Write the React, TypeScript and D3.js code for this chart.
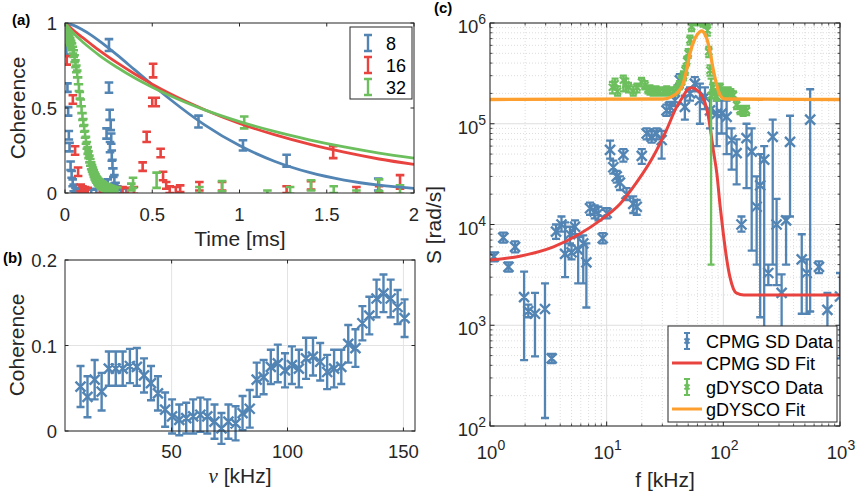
import React from 'react';
import * as d3 from 'd3';

const FONT = '"Liberation Sans", Arial, Helvetica, sans-serif';
const AX = '#262626';
const BLUE = '#5284b4';
const RED = '#e8433f';
const GREEN = '#6dbf5e';
const ORANGE = '#fd9f2f';
const TICK_FS = 18.5;
const LAB_FS = 21;

// ---------- Panel (a) data: [time ms, coherence, error] ----------
const coh8: [number, number, number][] = [
  [0.003, 0.99, 0.02], [0.008, 0.84, 0.025], [0.014, 0.62, 0.025], [0.018, 0.48, 0.025],
  [0.022, 0.34, 0.025], [0.026, 0.27, 0.025], [0.032, 0.16, 0.025], [0.038, 0.11, 0.02],
  [0.044, 0.06, 0.02], [0.05, 0.03, 0.02], [0.06, 0.015, 0.015], [0.07, 0.01, 0.015],
  [0.08, 0.01, 0.015], [0.095, 0.005, 0.015], [0.11, 0.01, 0.015], [0.13, 0.005, 0.015],
  [0.15, 0.005, 0.015], [0.18, 0.01, 0.015], [0.2, 0.01, 0.015], [0.22, 0.02, 0.015],
  [0.238, 0.35, 0.03], [0.245, 0.06, 0.02], [0.252, 0.87, 0.035], [0.252, 0.62, 0.03],
  [0.256, 0.46, 0.03], [0.258, 0.27, 0.03], [0.262, 0.40, 0.03], [0.265, 0.32, 0.03],
  [0.268, 0.22, 0.03], [0.272, 0.17, 0.025], [0.277, 0.12, 0.025], [0.283, 0.08, 0.025],
  [0.29, 0.04, 0.02], [0.3, 0.02, 0.02], [0.32, 0.01, 0.015], [0.35, 0.01, 0.015],
  [0.765, 0.42, 0.035], [1.02, 0.28, 0.03], [1.27, 0.19, 0.035], [1.795, 0.05, 0.035],
];
const coh16: [number, number, number][] = [
  [0.003, 0.9, 0.025], [0.01, 0.78, 0.025], [0.045, 0.55, 0.025], [0.058, 0.25, 0.025],
  [0.075, 0.125, 0.025], [0.09, 0.03, 0.02], [0.1, 0.02, 0.02], [0.115, 0.015, 0.02],
  [0.13, 0.01, 0.02], [0.2, 0.015, 0.02], [0.33, 0.015, 0.02], [0.36, 0.01, 0.02],
  [0.395, 0.015, 0.02], [0.445, 0.155, 0.025], [0.468, 0.33, 0.03], [0.505, 0.72, 0.04],
  [0.5, 0.535, 0.025], [0.52, 0.535, 0.025], [0.548, 0.235, 0.025], [0.562, 0.1, 0.025],
  [0.58, 0.045, 0.02], [0.6, 0.02, 0.02], [0.635, 0.015, 0.02], [0.66, 0.025, 0.02],
  [0.77, 0.04, 0.025], [0.9, 0.04, 0.025], [1.27, 0.02, 0.02], [1.41, 0.045, 0.025],
  [1.537, 0.24, 0.035], [1.67, 0.015, 0.02], [1.8, 0.02, 0.02], [1.92, 0.065, 0.04],
];
const coh32: [number, number, number][] = [
  [0.0, 0.97, 0.02], [0.005, 0.96, 0.02], [0.01, 0.95, 0.02], [0.015, 0.935, 0.02],
  [0.02, 0.92, 0.02], [0.025, 0.905, 0.02], [0.03, 0.89, 0.02], [0.035, 0.875, 0.02],
  [0.04, 0.86, 0.02], [0.045, 0.84, 0.02], [0.05, 0.82, 0.02], [0.055, 0.79, 0.02],
  [0.06, 0.76, 0.02], [0.065, 0.73, 0.02], [0.07, 0.7, 0.02], [0.075, 0.66, 0.02],
  [0.08, 0.62, 0.02], [0.085, 0.575, 0.02], [0.09, 0.53, 0.02], [0.095, 0.49, 0.02],
  [0.1, 0.45, 0.02], [0.105, 0.415, 0.02], [0.11, 0.38, 0.02], [0.115, 0.345, 0.02],
  [0.12, 0.31, 0.02], [0.125, 0.28, 0.02], [0.13, 0.25, 0.02], [0.135, 0.225, 0.02],
  [0.14, 0.2, 0.02], [0.145, 0.18, 0.02], [0.15, 0.16, 0.02], [0.155, 0.145, 0.02],
  [0.16, 0.13, 0.02], [0.165, 0.115, 0.02], [0.17, 0.1, 0.02], [0.175, 0.09, 0.02],
  [0.18, 0.08, 0.02], [0.185, 0.072, 0.02], [0.19, 0.065, 0.02], [0.195, 0.06, 0.02],
  [0.2, 0.055, 0.02], [0.205, 0.05, 0.02], [0.21, 0.046, 0.02], [0.215, 0.043, 0.02],
  [0.22, 0.04, 0.02], [0.225, 0.037, 0.02], [0.23, 0.034, 0.02], [0.235, 0.032, 0.02],
  [0.24, 0.03, 0.02], [0.245, 0.028, 0.02], [0.25, 0.026, 0.02], [0.255, 0.024, 0.02],
  [0.26, 0.022, 0.02], [0.265, 0.02, 0.02], [0.27, 0.018, 0.02], [0.275, 0.016, 0.02],
  [0.28, 0.015, 0.02], [0.29, 0.013, 0.02], [0.3, 0.012, 0.02],
  [0.38, 0.035, 0.02], [0.39, 0.06, 0.03], [0.525, 0.075, 0.045], [0.77, 0.015, 0.02],
  [0.9, 0.04, 0.03], [1.027, 0.415, 0.035], [1.16, 0.0, 0.015], [1.29, 0.015, 0.02],
  [1.41, 0.045, 0.03], [1.54, 0.02, 0.02], [1.67, 0.0, 0.015], [1.8, 0.045, 0.035],
  [1.92, 0.02, 0.025],
];
const fitT = [0, 0.05, 0.1, 0.15, 0.2, 0.3, 0.4, 0.5, 0.6, 0.8, 1.0, 1.2, 1.4, 1.6, 1.8, 2.0];
const fit8 = [1, 0.986, 0.96, 0.929, 0.892, 0.811, 0.724, 0.637, 0.553, 0.401, 0.279, 0.187, 0.121, 0.076, 0.046, 0.027];
const fit16 = [1, 0.956, 0.915, 0.875, 0.836, 0.765, 0.7, 0.64, 0.585, 0.49, 0.409, 0.343, 0.287, 0.24, 0.2, 0.168];
const fit32 = [1, 0.938, 0.89, 0.847, 0.807, 0.738, 0.676, 0.622, 0.573, 0.489, 0.42, 0.362, 0.313, 0.271, 0.235, 0.205];
const legendA = ['8', '16', '32'];
const ticksAX = [0, 0.5, 1, 1.5, 2];
const ticksAY = [0, 0.5, 1];

// ---------- Panel (b) data ----------
const nuB = [10.7, 13.7, 16.8, 19.8, 22.9, 25.9, 28.9, 32.0, 35.0, 38.1, 41.1, 44.1, 47.2, 50.2, 53.3, 56.3,
  59.3, 62.4, 65.4, 68.5, 71.5, 74.5, 77.6, 80.6, 83.7, 86.7, 89.7, 92.8, 95.8, 98.9, 101.9, 104.9, 108.0,
  111.0, 114.1, 117.1, 120.1, 123.2, 126.2, 129.3, 132.3, 135.3, 138.4, 141.4, 144.5, 147.5, 150.5];
const cohB = [0.052, 0.04, 0.06, 0.046, 0.073, 0.073, 0.073, 0.076, 0.075, 0.065, 0.056, 0.044, 0.025, 0.017,
  0.013, 0.015, 0.017, 0.019, 0.017, 0.011, 0.003, 0.011, 0.009, 0.021, 0.026, 0.06, 0.063, 0.075, 0.079,
  0.071, 0.077, 0.073, 0.085, 0.087, 0.081, 0.069, 0.073, 0.075, 0.102, 0.097, 0.126, 0.135, 0.155, 0.161,
  0.155, 0.145, 0.132];
const errB = [0.024, 0.024, 0.023, 0.022, 0.02, 0.02, 0.02, 0.02, 0.022, 0.02, 0.02, 0.02, 0.02, 0.02, 0.018,
  0.018, 0.02, 0.02, 0.02, 0.02, 0.018, 0.02, 0.02, 0.02, 0.022, 0.02, 0.02, 0.02, 0.022, 0.02, 0.022, 0.022,
  0.024, 0.022, 0.022, 0.02, 0.022, 0.02, 0.022, 0.022, 0.02, 0.022, 0.022, 0.022, 0.022, 0.02, 0.022];
const ticksBX = [50, 100, 150];
const ticksBY = [0, 0.1, 0.2];

// ---------- Panel (c) data ----------
const cpmgF = [1.08, 1.3, 1.44, 1.64, 1.96, 2.13, 2.43, 2.96, 3.38, 3.68, 4.1, 4.4, 4.85, 5.0, 5.35, 5.7, 6.3,
  6.7, 7.2, 7.9, 8.5, 9.25, 10.0, 10.7, 11.4, 12.2, 13.0, 13.9, 14.8, 16.9, 18.1, 20.0, 22.0, 24.3, 26.8,
  29.6, 32.6, 34.9, 38.5, 42.4, 46.8, 51.8, 57.0, 63.0, 69.6, 76.9, 87.8, 96.6, 106.7, 117.7, 130, 143,
  158, 175, 193, 207, 224, 243, 265, 286, 316, 345, 373, 470, 518, 555, 660, 780, 1000];
const cpmgS = [4.8e3, 7.4e3, 3.8e3, 6.0e3, 1.9e3, 1.38e3, 1.3e3, 1.45e3, 470, 8.5e3, 1.0e4, 5.1e3, 8.0e3,
  5.3e3, 9.5e3, 5.6e3, 6.5e3, 4.2e3, 1.45e4, 1.35e4, 1.3e4, 7.3e3, 1.3e4, 5.5e4, 3.7e4, 3.0e4, 2.6e4,
  4.9e4, 2.0e4, 1.6e4, 1.5e4, 4.8e4, 8.0e4, 7.4e4, 8.0e4, 6.9e4, 1.36e5, 1.47e5, 1.71e5, 2.7e5, 1.47e5,
  2.0e5, 2.5e5, 1.71e5, 1.85e5, 1.36e5, 1.26e5, 1.26e5, 1.17e5, 6.9e4, 5.1e4, 1.0e4, 7.2e4, 5.3e4,
  1.5e4, 2.45e4, 4.4e4, 3.3e3, 7.4e4, 1.0e4, 2.1e3, 1.1e4, 6.6e4, 4.5e3, 3.3e3, 1.1e5, 3.8e3, 1.42e3, 1.93e3];
const cpmgLo = [4.3e3, 6.6e3, 3.4e3, 5.3e3, 450, 1.2e3, 490, 120, 420, 7.2e3, 8.5e3, 3.0e3, 6.5e3, 4.5e3,
  8.0e3, 2.6e3, 2.6e3, 1.5e3, 1.25e4, 1.15e4, 1.1e4, 6.5e3, 1.15e4, 4.5e4, 3.2e4, 2.6e4, 2.2e4, 4.2e4,
  1.75e4, 1.3e4, 1.25e4, 4.0e4, 7.0e4, 6.5e4, 7.0e4, 4.5e4, 1.2e5, 1.3e5, 1.5e5, 2.3e5, 1.1e5, 1.7e5,
  2.1e5, 1.0e5, 1.4e5, 9.0e4, 6.0e4, 8.0e4, 5.0e4, 3.5e4, 2.5e4, 8.5e3, 2.3e4, 5.5e3, 4.0e3, 1.2e3, 800,
  2.5e3, 4.0e3, 2.5e3, 200, 4.0e3, 1.2e4, 1.3e3, 1.3e3, 1.37e3, 3.3e3, 300, 470];
const cpmgHi = [5.3e3, 8.3e3, 4.2e3, 6.8e3, 3.4e3, 1.6e3, 2.1e3, 2.6e3, 520, 1.0e4, 1.2e4, 1.05e4, 9.5e3,
  6.2e3, 1.1e4, 7.5e3, 7.8e3, 6.5e3, 1.65e4, 1.55e4, 1.5e4, 8.2e3, 1.45e4, 6.8e4, 4.3e4, 3.4e4, 3.0e4,
  5.6e4, 2.3e4, 1.9e4, 1.75e4, 5.6e4, 9.0e4, 8.4e4, 9.0e4, 8.5e4, 1.55e5, 1.65e5, 1.95e5, 3.1e5, 1.9e5,
  2.3e5, 2.9e5, 2.5e5, 2.3e5, 1.8e5, 1.7e5, 1.7e5, 1.7e5, 9.0e4, 7.0e4, 1.2e4, 1.0e5, 9.0e4, 3.0e4,
  5.0e4, 6.0e4, 4.0e3, 1.1e5, 1.8e4, 3.2e3, 1.2e4, 1.2e5, 8.0e3, 4.5e3, 2.2e5, 4.3e3, 2.1e3, 3.3e3];

const gdyF = [11.2, 11.8, 12.4, 13.9, 14.6, 15.4, 16.9, 18.2, 19.9, 21.3, 22.6, 23.5, 25.0, 26.5, 28.5, 30.6,
  32.7, 34.8, 37.3, 39.9, 42.0, 43.9, 45.5, 47.0, 48.5, 50.0, 51.8, 53.4, 55.0, 57.0, 59.0, 61.0, 63.0,
  65.0, 67.0, 69.0, 71.0, 73.0, 75.0, 76.9, 78.5, 81.5, 84.5, 87.8, 93.6, 100, 105, 110, 116, 122, 130,
  139, 148, 158];
const gdyS = [2.3e5, 2.5e5, 2.1e5, 2.7e5, 2.45e5, 2.3e5, 2.1e5, 2.3e5, 2.6e5, 2.4e5, 2.2e5, 2.16e5, 2.1e5,
  2.15e5, 2.1e5, 2.1e5, 2.15e5, 2.1e5, 2.1e5, 2.2e5, 2.4e5, 2.7e5, 3.0e5, 3.4e5, 4.2e5, 5.0e5, 6.8e5,
  9.2e5, 1.1e6, 1.25e6, 1.2e6, 1.3e6, 1.15e6, 1.25e6, 1.1e6, 1.2e6, 1.05e6, 8.5e5, 5.2e5, 3.4e5, 1.9e5,
  2.3e5, 2.0e5, 1.86e5, 2.3e5, 2.1e5, 2.05e5, 2.1e5, 2.0e5, 1.93e5, 1.54e5, 1.37e5, 1.3e5, 1.35e5];
const gdyLo = [2.0e5, 2.2e5, 1.9e5, 2.1e5, 2.1e5, 2.05e5, 1.9e5, 2.05e5, 2.35e5, 2.2e5, 2.0e5, 1.95e5,
  1.9e5, 1.95e5, 1.9e5, 1.9e5, 1.95e5, 1.9e5, 1.9e5, 2.0e5, 2.2e5, 2.45e5, 2.7e5, 3.05e5, 3.8e5, 4.5e5,
  6.1e5, 8.3e5, 9.5e5, 1.05e6, 1.0e6, 1.1e6, 9.5e5, 1.05e6, 9.2e5, 1.0e6, 9.0e5, 7.5e5, 4.6e5, 3.0e5,
  4.0e3, 2.05e5, 1.8e5, 1.7e5, 2.1e5, 1.9e5, 1.85e5, 1.9e5, 1.8e5, 1.75e5, 1.4e5, 1.25e5, 1.2e5, 1.22e5];
const gdyHi = [2.6e5, 2.8e5, 2.35e5, 3.0e5, 2.8e5, 2.55e5, 2.35e5, 2.5e5, 2.85e5, 2.65e5, 2.4e5, 2.4e5,
  2.3e5, 2.35e5, 2.3e5, 2.3e5, 2.35e5, 2.3e5, 2.3e5, 2.4e5, 2.65e5, 3.0e5, 3.3e5, 3.75e5, 4.6e5, 5.5e5,
  7.5e5, 1.0e6, 1.25e6, 1.4e6, 1.4e6, 1.5e6, 1.35e6, 1.45e6, 1.3e6, 1.4e6, 1.2e6, 9.5e5, 5.8e5, 3.8e5,
  2.8e5, 2.55e5, 2.2e5, 2.05e5, 2.5e5, 2.3e5, 2.25e5, 2.3e5, 2.2e5, 2.1e5, 1.7e5, 1.5e5, 1.45e5, 1.5e5];

const cpmgFitF = [1, 1.8, 3.5, 5.9, 8.8, 13, 18, 25, 32.6, 39.8, 45, 48.7, 53.4, 58, 65, 72, 77, 82, 88, 94,
  100, 107, 114, 122, 130, 150, 300, 1000];
const cpmgFitS = [4.43e3, 4.85e3, 6.0e3, 8.1e3, 1.1e4, 1.6e4, 2.6e4, 4.7e4, 8.7e4, 1.47e5, 1.85e5, 2.15e5,
  2.28e5, 2.2e5, 1.92e5, 1.42e5, 9.3e4, 5.5e4, 3.2e4, 1.5e4, 8.1e3, 4.5e3, 3.0e3, 2.3e3, 2.08e3, 2.0e3,
  2.0e3, 2.0e3];
const gdyFitF = [1, 30.6, 36.1, 41.1, 45.4, 48.5, 51.8, 57.2, 63.1, 65.2, 67.3, 72, 76.9, 82, 87.7, 93.6, 103, 1000];
const gdyFitS = [1.74e5, 1.76e5, 1.86e5, 2.08e5, 2.51e5, 3.42e5, 5.0e5, 7.05e5, 8.2e5, 8.35e5, 8.2e5, 7.05e5,
  5.19e5, 3.42e5, 2.43e5, 1.93e5, 1.76e5, 1.74e5];
const legendC = ['CPMG SD Data', 'CPMG SD Fit', 'gDYSCO Data', 'gDYSCO Fit'];
const decadesX = [0, 1, 2, 3];
const decadesY = [2, 3, 4, 5, 6];

// ---------- helpers ----------
const ebPath = (x: number, yt: number, yb: number, cw: number) =>
  `M${x - cw},${yt}H${x + cw}M${x},${yt}V${yb}M${x - cw},${yb}H${x + cw}`;
const xPath = (x: number, y: number, s: number) =>
  `M${x - s},${y - s}L${x + s},${y + s}M${x - s},${y + s}L${x + s},${y - s}`;

function minors(lo: number, hi: number) {
  const out: number[] = [];
  for (let e = lo; e < hi; e++) for (let m = 2; m <= 9; m++) out.push(m * Math.pow(10, e));
  return out;
}

function PanelA() {
  const x = d3.scaleLinear().domain([0, 2]).range([65, 414]);
  const y = d3.scaleLinear().domain([0, 1]).range([193, 23]);
  const line = d3.line<number>().x((_, i) => x(fitT[i])).y((d) => y(d)).curve(d3.curveMonotoneX);
  const series: [typeof coh8, string][] = [[coh8, BLUE], [coh16, RED], [coh32, GREEN]];
  const fits: [number[], string][] = [[fit8, BLUE], [fit16, RED], [fit32, GREEN]];
  return (
    <g>
      <defs>
        <clipPath id="clipA"><rect x={65} y={23} width={349} height={170} /></clipPath>
      </defs>
      <g clipPath="url(#clipA)">
        {series.map(([s, c], k) => (
          <path key={k} d={s.map(([t, v, e]) => ebPath(x(t), y(v + e), y(v - e), 4.3)).join('')}
            stroke={c} strokeWidth={2.6} fill="none" />
        ))}
        {fits.map(([f, c], k) => (
          <path key={k} d={line(f) || ''} stroke={c} strokeWidth={2.8} fill="none" />
        ))}
      </g>
      <rect x={65} y={23} width={349} height={170} fill="none" stroke={AX} strokeWidth={1} />
      {ticksAX.map((t) => (
        <g key={t}>
          <line x1={x(t)} x2={x(t)} y1={193} y2={189.5} stroke={AX} />
          <line x1={x(t)} x2={x(t)} y1={23} y2={26.5} stroke={AX} />
          <text x={x(t)} y={221} textAnchor="middle" fontSize={TICK_FS} fill={AX}>{String(t)}</text>
        </g>
      ))}
      {ticksAY.map((t) => (
        <g key={t}>
          <line x1={65} x2={68.5} y1={y(t)} y2={y(t)} stroke={AX} />
          <line x1={414} x2={410.5} y1={y(t)} y2={y(t)} stroke={AX} />
          <text x={57} y={y(t) + 7} textAnchor="end" fontSize={TICK_FS} fill={AX}>{String(t)}</text>
        </g>
      ))}
      <text x={240} y={246} textAnchor="middle" fontSize={LAB_FS} fill={AX}>Time [ms]</text>
      <text transform="translate(25,108) rotate(-90)" textAnchor="middle" fontSize={LAB_FS} fill={AX}>Coherence</text>
      <rect x={350} y={27} width={62} height={72} fill="#fff" stroke={AX} strokeWidth={1} />
      {legendA.map((lab, i) => {
        const cy = 43 + i * 22;
        return (
          <g key={lab}>
            <path d={ebPath(368, cy - 8, cy + 8, 4)} stroke={[BLUE, RED, GREEN][i]} strokeWidth={2.4} fill="none" />
            <text x={386} y={cy + 6.5} fontSize={18} fill="#000">{lab}</text>
          </g>
        );
      })}
      <text x={12} y={25} fontSize={15} fontWeight="bold" fill="#000">(a)</text>
    </g>
  );
}

function PanelB() {
  const x = d3.scaleLinear().domain([4, 155]).range([65, 415]);
  const y = d3.scaleLinear().domain([0, 0.2]).range([431, 260]);
  return (
    <g>
      {ticksBX.map((t) => (
        <line key={'gx' + t} x1={x(t)} x2={x(t)} y1={260} y2={431} stroke="#e3e3e3" />
      ))}
      {ticksBY.map((t) => (
        <line key={'gy' + t} x1={65} x2={415} y1={y(t)} y2={y(t)} stroke="#e3e3e3" />
      ))}
      <path d={nuB.map((n, i) => ebPath(x(n), y(cohB[i] + errB[i]), y(cohB[i] - errB[i]), 4)).join('')}
        stroke={BLUE} strokeWidth={2.4} fill="none" />
      <path d={nuB.map((n, i) => xPath(x(n), y(cohB[i]), 5)).join('')} stroke={BLUE} strokeWidth={2.4} fill="none" />
      <rect x={65} y={260} width={350} height={171} fill="none" stroke={AX} strokeWidth={1} />
      {ticksBX.map((t) => (
        <g key={t}>
          <line x1={x(t)} x2={x(t)} y1={431} y2={427.5} stroke={AX} />
          <line x1={x(t)} x2={x(t)} y1={260} y2={263.5} stroke={AX} />
          <text x={x(t)} y={458} textAnchor="middle" fontSize={TICK_FS} fill={AX}>{String(t)}</text>
        </g>
      ))}
      {ticksBY.map((t) => (
        <g key={t}>
          <line x1={65} x2={68.5} y1={y(t)} y2={y(t)} stroke={AX} />
          <line x1={415} x2={411.5} y1={y(t)} y2={y(t)} stroke={AX} />
          <text x={57} y={y(t) + 7} textAnchor="end" fontSize={TICK_FS} fill={AX}>{String(t)}</text>
        </g>
      ))}
      <text x={240} y={483} textAnchor="middle" fontSize={LAB_FS} fill={AX}>
        <tspan fontFamily='"Liberation Serif", "DejaVu Serif", serif' fontStyle="italic">ν</tspan> [kHz]
      </text>
      <text transform="translate(24,345) rotate(-90)" textAnchor="middle" fontSize={LAB_FS} fill={AX}>Coherence</text>
      <text x={3} y={263} fontSize={15} fontWeight="bold" fill="#000">(b)</text>
    </g>
  );
}

function PanelC() {
  const x = d3.scaleLog().domain([1, 1000]).range([490, 840]);
  const y = d3.scaleLog().domain([1e2, 1e6]).range([426, 23]);
  const fitLine = (F: number[]) =>
    d3.line<number>().x((_, i) => x(F[i])).y((d) => y(d)).curve(d3.curveMonotoneX);
  const mx = minors(0, 3);
  const my = minors(2, 6);
  return (
    <g>
      <defs>
        <clipPath id="clipC"><rect x={490} y={23} width={350} height={403} /></clipPath>
      </defs>
      {mx.map((v) => (
        <line key={'mx' + v} x1={x(v)} x2={x(v)} y1={23} y2={426} stroke="#cfcfcf" strokeWidth={0.7} strokeDasharray="1,2" />
      ))}
      {my.map((v) => (
        <line key={'my' + v} x1={490} x2={840} y1={y(v)} y2={y(v)} stroke="#cfcfcf" strokeWidth={0.7} strokeDasharray="1,2" />
      ))}
      {decadesX.map((e) => (
        <line key={'dx' + e} x1={x(10 ** e)} x2={x(10 ** e)} y1={23} y2={426} stroke="#dedede" />
      ))}
      {decadesY.map((e) => (
        <line key={'dy' + e} x1={490} x2={840} y1={y(10 ** e)} y2={y(10 ** e)} stroke="#dedede" />
      ))}
      <g clipPath="url(#clipC)">
        <path d={cpmgF.map((f, i) => ebPath(x(f), y(cpmgHi[i]), y(cpmgLo[i]), 4)).join('')}
          stroke={BLUE} strokeWidth={2.3} fill="none" />
        <path d={cpmgF.map((f, i) => xPath(x(f), y(cpmgS[i]), 5)).join('')} stroke={BLUE} strokeWidth={2.4} fill="none" />
        <path d={fitLine(cpmgFitF)(cpmgFitS) || ''} stroke={RED} strokeWidth={3} fill="none" />
        <path d={gdyF.map((f, i) => ebPath(x(f), y(gdyHi[i]), y(gdyLo[i]), 3.5)).join('')}
          stroke={GREEN} strokeWidth={2.3} fill="none" />
        <path d={gdyF.map((f, i) => xPath(x(f), y(gdyS[i]), 3.5)).join('')} stroke={GREEN} strokeWidth={2.3} fill="none" />
        <path d={fitLine(gdyFitF)(gdyFitS) || ''} stroke={ORANGE} strokeWidth={3.3} fill="none" />
      </g>
      <rect x={490} y={23} width={350} height={403} fill="none" stroke={AX} strokeWidth={1} />
      {mx.map((v) => (
        <g key={'tmx' + v}>
          <line x1={x(v)} x2={x(v)} y1={426} y2={423.5} stroke={AX} strokeWidth={0.8} />
          <line x1={x(v)} x2={x(v)} y1={23} y2={25.5} stroke={AX} strokeWidth={0.8} />
        </g>
      ))}
      {my.map((v) => (
        <g key={'tmy' + v}>
          <line x1={490} x2={492.5} y1={y(v)} y2={y(v)} stroke={AX} strokeWidth={0.8} />
          <line x1={840} x2={837.5} y1={y(v)} y2={y(v)} stroke={AX} strokeWidth={0.8} />
        </g>
      ))}
      {decadesX.map((e) => (
        <g key={'tx' + e}>
          <line x1={x(10 ** e)} x2={x(10 ** e)} y1={426} y2={421.5} stroke={AX} />
          <line x1={x(10 ** e)} x2={x(10 ** e)} y1={23} y2={27.5} stroke={AX} />
          <text x={x(10 ** e) + 1} y={459} textAnchor="middle" fontSize={TICK_FS} fill={AX}>
            <tspan>10</tspan><tspan dy={-9} fontSize={14}>{String(e)}</tspan>
          </text>
        </g>
      ))}
      {decadesY.map((e) => (
        <g key={'ty' + e}>
          <line x1={490} x2={494.5} y1={y(10 ** e)} y2={y(10 ** e)} stroke={AX} />
          <line x1={840} x2={835.5} y1={y(10 ** e)} y2={y(10 ** e)} stroke={AX} />
          <text x={486} y={y(10 ** e) + 10} textAnchor="end" fontSize={TICK_FS} fill={AX}>
            <tspan>10</tspan><tspan dy={-9} fontSize={14}>{String(e)}</tspan>
          </text>
        </g>
      ))}
      <text x={665} y={487} textAnchor="middle" fontSize={LAB_FS} fill={AX}>f [kHz]</text>
      <text transform="translate(441,225) rotate(-90)" textAnchor="middle" fontSize={LAB_FS} fill={AX}>S [rad/s]</text>
      <rect x={668} y={326} width={169} height={96} fill="#fff" stroke={AX} strokeWidth={1} />
      {legendC.map((lab, i) => {
        const cy = [341, 363, 387, 409][i];
        const col = [BLUE, RED, GREEN, ORANGE][i];
        const isData = i % 2 === 0;
        return (
          <g key={lab}>
            {isData ? (
              <g>
                <path d={ebPath(687, cy - 8, cy + 8, 3)} stroke={col} strokeWidth={2.2} fill="none" />
                <path d={xPath(687, cy, 2.5)} stroke={col} strokeWidth={2} fill="none" />
              </g>
            ) : (
              <line x1={672} x2={702} y1={cy} y2={cy} stroke={col} strokeWidth={3} />
            )}
            <text x={706} y={cy + 6.5} fontSize={18} fill="#000">{lab}</text>
          </g>
        );
      })}
      <text x={434} y={13} fontSize={15} fontWeight="bold" fill="#000">(c)</text>
    </g>
  );
}

export default function App() {
  return (
    <svg width={857} height={494} viewBox="0 0 857 494"
      style={{ position: 'absolute', left: 0, top: 0, background: '#fff' }}
      fontFamily={FONT}>
      <rect x={0} y={0} width={857} height={494} fill="#fff" />
      <PanelA />
      <PanelB />
      <PanelC />
    </svg>
  );
}
